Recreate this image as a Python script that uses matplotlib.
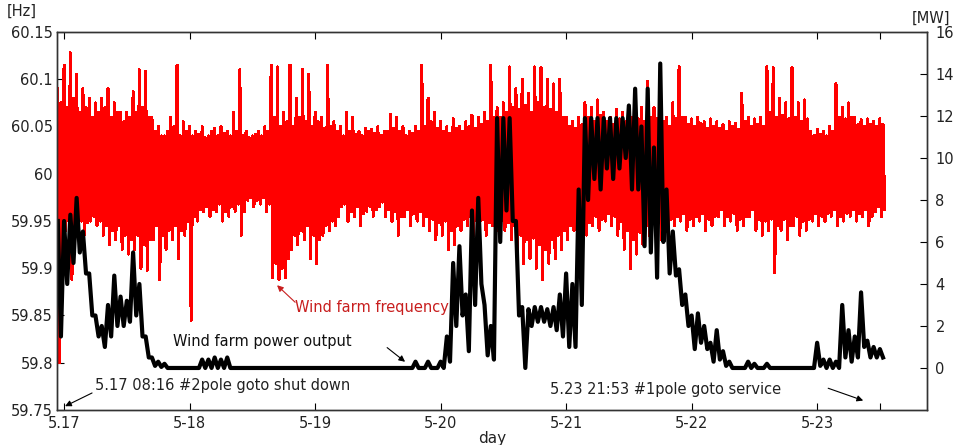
import numpy as np
import matplotlib.pyplot as plt

# sample grid (days after 5.17 00:00), one block of samples every 0.05 day
days = np.arange(132) * 0.05 - 0.05

# wind farm frequency [Hz] - swing peaks (hi/lo) and in-between swings (hi2/lo2)
freq_hi = [
    60.090, 60.115, 60.128, 60.105, 60.090, 60.080, 60.075, 60.080, 60.090, 60.075,
    60.065, 60.065, 60.087, 60.110, 60.108, 60.060, 60.050, 60.040, 60.060, 60.115,
    60.055, 60.050, 60.045, 60.050, 60.040, 60.048, 60.050, 60.045, 60.065, 60.110,
    60.045, 60.040, 60.045, 60.050, 60.115, 60.113, 60.065, 60.115, 60.080, 60.110,
    60.105, 60.065, 60.060, 60.115, 60.055, 60.050, 60.065, 60.060, 60.045, 60.048,
    60.047, 60.050, 60.045, 60.063, 60.060, 60.050, 60.045, 60.050, 60.115, 60.080,
    60.065, 60.055, 60.050, 60.058, 60.050, 60.055, 60.062, 60.060, 60.065, 60.115,
    60.070, 60.075, 60.113, 60.090, 60.100, 60.085, 60.113, 60.112, 60.100, 60.095,
    60.100, 60.060, 60.055, 60.060, 60.075, 60.070, 60.078, 60.065, 60.060, 60.068,
    60.065, 60.070, 60.068, 60.070, 60.098, 60.070, 60.065, 60.060, 60.075, 60.113,
    60.060, 60.058, 60.060, 60.055, 60.058, 60.055, 60.052, 60.055, 60.053, 60.085,
    60.060, 60.058, 60.060, 60.113, 60.112, 60.080, 60.075, 60.112, 60.075, 60.078,
    60.045, 60.047, 60.045, 60.050, 60.095, 60.070, 60.075, 60.060, 60.057, 60.058,
    60.055, 60.058]
freq_lo = [
    59.800, 59.940, 59.888, 59.940, 59.935, 59.950, 59.945, 59.935, 59.925, 59.930,
    59.920, 59.915, 59.920, 59.900, 59.898, 59.930, 59.888, 59.920, 59.930, 59.910,
    59.935, 59.845, 59.950, 59.960, 59.955, 59.960, 59.950, 59.955, 59.960, 59.935,
    59.972, 59.965, 59.968, 59.960, 59.890, 59.888, 59.890, 59.920, 59.925, 59.930,
    59.910, 59.905, 59.935, 59.940, 59.945, 59.965, 59.950, 59.955, 59.945, 59.960,
    59.955, 59.965, 59.955, 59.950, 59.935, 59.955, 59.945, 59.950, 59.945, 59.940,
    59.930, 59.935, 59.920, 59.925, 59.940, 59.945, 59.935, 59.940, 59.935, 59.945,
    59.940, 59.940, 59.930, 59.915, 59.905, 59.910, 59.900, 59.888, 59.905, 59.910,
    59.920, 59.930, 59.940, 59.925, 59.935, 59.945, 59.940, 59.950, 59.945, 59.935,
    59.920, 59.900, 59.915, 59.925, 59.935, 59.935, 59.930, 59.940, 59.945, 59.950,
    59.940, 59.945, 59.950, 59.940, 59.945, 59.955, 59.945, 59.950, 59.940, 59.945,
    59.955, 59.940, 59.935, 59.940, 59.895, 59.940, 59.930, 59.945, 59.935, 59.940,
    59.950, 59.945, 59.950, 59.955, 59.945, 59.950, 59.955, 59.950, 59.955, 59.945,
    59.960, 59.955]
freq_hi2 = [
    60.075, 60.070, 60.080, 60.065, 60.070, 60.060, 60.065, 60.070, 60.060, 60.065,
    60.055, 60.060, 60.065, 60.070, 60.060, 60.045, 60.040, 60.045, 60.050, 60.040,
    60.045, 60.040, 60.042, 60.038, 60.045, 60.040, 60.043, 60.040, 60.045, 60.040,
    60.038, 60.042, 60.040, 60.045, 60.060, 60.050, 60.055, 60.050, 60.060, 60.055,
    60.050, 60.055, 60.048, 60.050, 60.045, 60.040, 60.045, 60.042, 60.040, 60.045,
    60.043, 60.040, 60.045, 60.048, 60.045, 60.040, 60.043, 60.045, 60.050, 60.055,
    60.048, 60.045, 60.043, 60.048, 60.045, 60.050, 60.048, 60.052, 60.055, 60.060,
    60.060, 60.065, 60.070, 60.068, 60.072, 60.065, 60.075, 60.070, 60.068, 60.065,
    60.060, 60.050, 60.048, 60.052, 60.060, 60.055, 60.062, 60.055, 60.052, 60.058,
    60.055, 60.060, 60.058, 60.055, 60.060, 60.058, 60.055, 60.050, 60.058, 60.060,
    60.052, 60.050, 60.053, 60.048, 60.050, 60.048, 60.045, 60.050, 60.047, 60.055,
    60.050, 60.052, 60.050, 60.065, 60.060, 60.062, 60.058, 60.060, 60.055, 60.058,
    60.040, 60.042, 60.040, 60.045, 60.060, 60.058, 60.060, 60.052, 60.050, 60.052,
    60.050, 60.052]
freq_lo2 = [
    59.940, 59.950, 59.945, 59.950, 59.948, 59.955, 59.950, 59.945, 59.940, 59.945,
    59.935, 59.930, 59.935, 59.925, 59.930, 59.945, 59.935, 59.940, 59.945, 59.940,
    59.950, 59.955, 59.962, 59.965, 59.962, 59.968, 59.960, 59.965, 59.968, 59.960,
    59.975, 59.972, 59.975, 59.968, 59.905, 59.900, 59.910, 59.935, 59.940, 59.945,
    59.935, 59.930, 59.945, 59.950, 59.955, 59.968, 59.960, 59.965, 59.958, 59.965,
    59.962, 59.970, 59.962, 59.960, 59.955, 59.962, 59.958, 59.960, 59.955, 59.952,
    59.948, 59.950, 59.940, 59.945, 59.952, 59.955, 59.950, 59.952, 59.948, 59.955,
    59.950, 59.948, 59.945, 59.935, 59.930, 59.932, 59.925, 59.920, 59.930, 59.935,
    59.940, 59.945, 59.950, 59.940, 59.948, 59.955, 59.952, 59.958, 59.955, 59.950,
    59.940, 59.930, 59.938, 59.945, 59.950, 59.948, 59.945, 59.952, 59.955, 59.958,
    59.952, 59.955, 59.958, 59.952, 59.955, 59.962, 59.955, 59.958, 59.952, 59.955,
    59.962, 59.952, 59.950, 59.952, 59.945, 59.952, 59.945, 59.955, 59.950, 59.952,
    59.958, 59.955, 59.958, 59.962, 59.955, 59.958, 59.962, 59.958, 59.962, 59.955,
    59.965, 59.962]

# solid middle of the frequency band
core_days = [-0.05, 1.0, 2.0, 3.0, 4.0, 5.0, 6.0, 6.5]
core_hi = [60.040, 60.035, 60.036, 60.036, 60.040, 60.036, 60.038, 60.038]
core_lo = [59.975, 59.980, 59.985, 59.980, 59.972, 59.975, 59.972, 59.972]

# wind farm power output [MW]
power_hi = [
    7.0, 7.0, 7.3, 8.1, 6.5, 4.5, 2.5, 2.0, 3.0, 4.4,
    3.4, 3.2, 5.5, 4.0, 1.5, 0.5, 0.3, 0.2, 0.0, 0.0,
    0.0, 0.0, 0.0, 0.4, 0.4, 0.5, 0.4, 0.5, 0.0, 0.0,
    0.0, 0.0, 0.0, 0.0, 0.0, 0.0, 0.0, 0.0, 0.0, 0.0,
    0.0, 0.0, 0.0, 0.0, 0.0, 0.0, 0.0, 0.0, 0.0, 0.0,
    0.0, 0.0, 0.0, 0.0, 0.0, 0.0, 0.0, 0.3, 0.0, 0.3,
    0.0, 0.3, 1.5, 5.0, 5.8, 3.5, 7.5, 8.1, 3.0, 2.0,
    11.9, 11.9, 11.9, 7.0, 2.9, 2.8, 2.9, 2.9, 2.8, 2.9,
    3.5, 4.5, 4.0, 8.5, 11.9, 11.9, 11.9, 11.9, 11.9, 11.9,
    11.9, 12.5, 13.3, 11.5, 13.3, 10.5, 14.5, 8.5, 6.5, 4.7,
    3.5, 2.5, 2.6, 2.0, 1.2, 1.8, 0.8, 0.3, 0.0, 0.0,
    0.3, 0.2, 0.0, 0.2, 0.0, 0.0, 0.0, 0.0, 0.0, 0.0,
    0.0, 1.2, 0.4, 0.4, 0.3, 3.0, 1.8, 1.5, 3.6, 1.3,
    1.0, 0.9]
power_lo = [
    1.5, 4.0, 5.0, 5.5, 4.5, 2.5, 1.5, 1.0, 1.5, 2.0,
    2.0, 2.2, 2.5, 1.5, 0.5, 0.1, 0.05, 0.0, 0.0, 0.0,
    0.0, 0.0, 0.0, 0.0, 0.0, 0.0, 0.0, 0.0, 0.0, 0.0,
    0.0, 0.0, 0.0, 0.0, 0.0, 0.0, 0.0, 0.0, 0.0, 0.0,
    0.0, 0.0, 0.0, 0.0, 0.0, 0.0, 0.0, 0.0, 0.0, 0.0,
    0.0, 0.0, 0.0, 0.0, 0.0, 0.0, 0.0, 0.0, 0.0, 0.0,
    0.0, 0.0, 0.3, 2.0, 2.5, 0.8, 3.0, 4.0, 0.6, 0.4,
    6.0, 7.5, 7.0, 2.5, 0.0, 2.0, 2.2, 2.2, 2.0, 1.8,
    1.5, 1.0, 1.0, 3.0, 8.0, 9.0, 8.5, 9.5, 9.0, 9.5,
    10.0, 8.5, 8.5, 5.8, 5.5, 4.3, 6.0, 4.5, 4.4, 3.0,
    2.0, 0.9, 1.2, 0.9, 0.3, 0.4, 0.1, 0.0, 0.0, 0.0,
    0.0, 0.0, 0.0, 0.0, 0.0, 0.0, 0.0, 0.0, 0.0, 0.0,
    0.0, 0.1, 0.0, 0.0, 0.0, 0.5, 0.3, 0.5, 1.0, 0.5,
    0.5, 0.5]

day_ticks = [0, 1, 2, 3, 4, 5, 6, 6.5]
day_labels = ['5.17', '5-18', '5-19', '5-20', '5-21', '5-22', '5-23', '']
hz_ticks = [59.75, 59.8, 59.85, 59.9, 59.95, 60, 60.05, 60.1, 60.15]
hz_labels = ['59.75', '59.8', '59.85', '59.9', '59.95', '60', '60.05', '60.1', '60.15']
mw_ticks = [0, 2, 4, 6, 8, 10, 12, 14, 16]


def trace(*series):
    # interleave the swing values of each 0.05 day block into one dense trace
    n = len(series)
    x = np.column_stack([days + k * 0.05 / n for k in range(n)]).ravel()
    y = np.column_stack(series).ravel()
    return x, y


fig = plt.figure(figsize=(9.62, 4.45), dpi=100)
ax = fig.add_axes([0.0593, 0.0787, 0.9044, 0.8494])
ax2 = ax.twinx()

fx, fy = trace(freq_hi, freq_lo, freq_hi2, freq_lo2)
ax.fill_between(core_days, core_lo, core_hi, color='#ff0000', lw=0)
ax.plot(fx, fy, color='#ff0000', lw=1.5, antialiased=False)

px, py = trace(power_hi, power_lo)
ax2.plot(px, py, color='black', lw=3.0)

ax.set_xlim(-0.056, 6.876)
ax.set_ylim(59.75, 60.15)
ax2.set_ylim(-2, 16)

ax.set_xticks(day_ticks)
ax.set_xticklabels(day_labels)
ax.set_yticks(hz_ticks)
ax.set_yticklabels(hz_labels)
ax2.set_yticks(mw_ticks)

ax.tick_params(direction='in', length=5, labelsize=10.5, labelcolor='#222222', top=True, pad=3)
ax.tick_params(axis='x', pad=4)
ax2.tick_params(direction='in', length=5, labelsize=10.5, labelcolor='#222222', pad=6)
for a in (ax, ax2):
    for s in a.spines.values():
        s.set_color('#333333')
        s.set_linewidth(1.0)

ax.set_xlabel('day', fontsize=11, color='#222222', labelpad=0)
fig.text(22 / 962, 1 - 11 / 445, '[Hz]', fontsize=10.5, color='#222222', ha='center', va='center')
fig.text(931 / 962, 1 - 18 / 445, '[MW]', fontsize=10.5, color='#222222', ha='center', va='center')

# annotations (frequency axis coordinates)
arrow_k = dict(arrowstyle='-|>', lw=0.8, mutation_scale=9, shrinkA=0, shrinkB=0)
ax.text(1.841, 59.858, 'Wind farm frequency', color='#c81e1e', fontsize=10.5, va='center')
ax.annotate('', xy=(1.697, 59.882), xytext=(1.841, 59.864),
            arrowprops=dict(arrow_k, color='#c81e1e'))
ax.text(0.869, 59.822, 'Wind farm power output', color='#111111', fontsize=10.5, va='center')
ax.annotate('', xy=(2.717, 59.801), xytext=(2.574, 59.816),
            arrowprops=dict(arrow_k, color='black'))
ax.text(0.247, 59.776, '5.17 08:16 #2pole goto shut down', color='#222222', fontsize=10.5, va='center')
ax.annotate('', xy=(0.008, 59.754), xytext=(0.223, 59.768),
            arrowprops=dict(arrow_k, color='black'))
ax.text(3.873, 59.772, '5.23 21:53 #1pole goto service', color='#222222', fontsize=10.5, va='center')
ax.annotate('', xy=(6.367, 59.760), xytext=(6.088, 59.773),
            arrowprops=dict(arrow_k, color='black'))

fig.savefig('out.png', dpi=100)
